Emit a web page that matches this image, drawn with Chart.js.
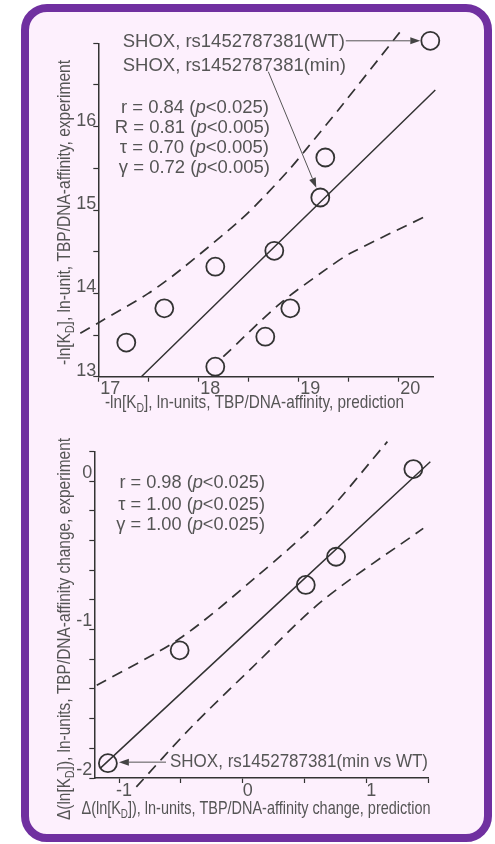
<!DOCTYPE html>
<html><head><meta charset="utf-8">
<script src="https://cdn.jsdelivr.net/npm/chart.js@4.4.0/dist/chart.umd.min.js"></script>
<style>
html,body{margin:0;padding:0;background:#fff;width:495px;height:844px;overflow:hidden;}
#frame{position:absolute;left:21px;top:4px;width:455px;height:822px;border:8px solid #7030a0;border-radius:26px;background:#fdf0fd;}
canvas{position:absolute;left:0;}
#c1{top:0}
#c2{top:420px}
</style></head><body>
<div id="frame"></div>
<canvas id="c1" width="495" height="420"></canvas>
<canvas id="c2" width="495" height="424"></canvas>
<script>
// ---------- data: top panel ----------
const topPredX = [17.28, 17.66, 18.17, 18.17, 18.67, 18.76, 18.92, 19.22, 19.27, 20.32];
const topExpY  = [13.41, 13.82, 14.32, 13.12, 13.48, 14.51, 13.82, 15.15, 15.63, 17.03];
const topFitX  = [17.43, 20.37];
const topFitY  = [13.00, 16.44];
const topUpperX = [16.82, 17.02, 17.50, 17.82, 18.42, 18.65, 18.92, 19.08, 19.42, 20.02];
const topUpperY = [13.52, 13.66, 14.00, 14.28, 14.88, 15.15, 15.50, 15.73, 16.23, 17.14];
const topLowerX = [18.25, 18.82, 19.28, 19.52, 20.30];
const topLowerY = [13.24, 13.88, 14.29, 14.48, 14.94];
const topXLabels = [17, 18, 19, 20];
const topYLabels = [13, 14, 15, 16];

// ---------- data: bottom panel ----------
const botPredX = [-1.09, -0.51, 0.51, 0.755, 1.38];
const botExpY  = [-1.90, -1.14, -0.70, -0.51, 0.08];
const botFitX  = [-1.155, 1.517];
const botFitY  = [-1.937, 0.130];
const botUpperX = [-1.18, -0.51, 0.11, 0.65, 1.17];
const botUpperY = [-1.376, -1.061, -0.645, -0.241, 0.265];
const botLowerX = [-0.86, -0.43, 0.11, 0.65, 1.46];
const botLowerY = [-2.06, -1.67, -1.229, -0.802, -0.319];
const botXLabels = [-1, 0, 1];
const botYLabels = [-2, -1, 0];

const FONT = "'Liberation Sans', Arial, sans-serif";
const TXT = '#555';
const INK = '#333';

const zip = (xs, ys) => xs.map((x, i) => ({x, y: ys[i]}));

function rich(ctx, segs, x, y, o) {
  const size = o.size || 18.5;
  ctx.save();
  ctx.fillStyle = o.color || TXT;
  ctx.textBaseline = 'middle';
  ctx.textAlign = 'left';
  const fontOf = s => (s.i ? 'italic ' : '') + (s.sub ? size * 0.68 : size) + 'px ' + FONT;
  let w = 0;
  const ws = segs.map(s => { ctx.font = fontOf(s); const m = ctx.measureText(s.t).width; w += m; return m; });
  const sx = o.width ? o.width / w : (o.sx || 1);
  ctx.translate(x, y);
  if (o.rot) ctx.rotate(o.rot);
  ctx.scale(sx, 1);
  let cx = o.align === 'right' ? -w : (o.align === 'center' ? -w / 2 : 0);
  segs.forEach((s, k) => { ctx.font = fontOf(s); ctx.fillText(s.t, cx, s.sub ? size * 0.3 : 0); cx += ws[k]; });
  ctx.restore();
  return w * sx;
}

function arrow(ctx, x1, y1, x2, y2) {
  const head = 10, hw = 3.5;
  const a = Math.atan2(y2 - y1, x2 - x1);
  const bx = x2 - head * Math.cos(a), by = y2 - head * Math.sin(a);
  ctx.save();
  ctx.strokeStyle = '#555'; ctx.fillStyle = '#444'; ctx.lineWidth = 1;
  ctx.beginPath(); ctx.moveTo(x1, y1); ctx.lineTo(bx, by); ctx.stroke();
  ctx.beginPath(); ctx.moveTo(x2, y2);
  ctx.lineTo(bx - hw * Math.sin(a), by + hw * Math.cos(a));
  ctx.lineTo(bx + hw * Math.sin(a), by - hw * Math.cos(a));
  ctx.closePath(); ctx.fill();
  ctx.restore();
}

function axis(min, max, step, labels, isX, fit, labelOffset, padding) {
  return {
    type: 'linear', min, max, position: isX ? 'bottom' : 'left',
    border: {display: true, color: INK, width: 1.5},
    grid: {drawOnChartArea: false, drawTicks: true, tickLength: 5, tickColor: INK, tickWidth: 1.2},
    ticks: {
      stepSize: step, includeBounds: false, autoSkip: false, maxRotation: 0, minRotation: 0,
      labelOffset, padding, color: TXT, font: {family: FONT, size: 18},
      callback: v => { const m = labels.find(l => Math.abs(l - v) < 1e-6); return m === undefined ? '' : String(m); }
    },
    afterFit: s => { if (isX) s.height = fit; else s.width = fit; }
  };
}

const circleDs = (data) => ({
  data, showLine: false, pointStyle: 'circle', pointRadius: 9, pointHoverRadius: 9,
  borderColor: INK, backgroundColor: 'rgba(0,0,0,0)', pointBorderWidth: 1.8, clip: false, order: 0
});
const lineDs = (data, dash) => ({
  data, showLine: true, pointRadius: 0, pointHoverRadius: 0, borderColor: INK,
  borderWidth: dash ? 1.7 : 1.5, borderDash: dash ? [11, 7] : [], tension: 0.3,
  fill: false, clip: false, order: 1
});

const stat = (a, b) => [{t: a + ' ('}, {t: 'p', i: 1}, {t: b + ')'}];

// ---------- top chart ----------
const topPlugin = {
  id: 'topAnn',
  afterDraw(chart) {
    const ctx = chart.ctx, xs = chart.scales.x, ys = chart.scales.y;
    const wtX = xs.getPixelForValue(topPredX[9]), wtY = ys.getPixelForValue(topExpY[9]);
    const w1 = rich(ctx, [{t: 'SHOX, rs1452787381(WT)'}], 122.7, 42, {size: 18.5});
    arrow(ctx, 122.7 + w1 + 1, wtY, wtX - 10, wtY);
    rich(ctx, [{t: 'SHOX, rs1452787381(min)'}], 122.7, 66, {size: 18.5});
    const mx = xs.getPixelForValue(topPredX[7]), my = ys.getPixelForValue(topExpY[7]);
    const sx0 = 268.3, sy0 = 71.7;
    const d = Math.hypot(mx - sx0, my - sy0);
    arrow(ctx, sx0, sy0, mx - (mx - sx0) / d * 10.5, my - (my - sy0) / d * 10.5);
    rich(ctx, stat('r = 0.84', '<0.025'), 269, 108.3, {align: 'right', size: 18.5});
    rich(ctx, stat('R = 0.81', '<0.005'), 270, 128.3, {align: 'right', size: 18.5});
    rich(ctx, stat('\u03C4 = 0.70', '<0.005'), 269, 148.3, {align: 'right', size: 18.5});
    rich(ctx, stat('\u03B3 = 0.72', '<0.005'), 270, 168.3, {align: 'right', size: 18.5});
    rich(ctx, [{t: '-ln[K'}, {t: 'D', sub: 1}, {t: '], ln-units, TBP/DNA-affinity, prediction'}], 254.5, 403, {align: 'center', width: 299, size: 18.5});
    rich(ctx, [{t: '-ln[K'}, {t: 'D', sub: 1}, {t: '], ln-unit, TBP/DNA-affinity, experiment'}], 64.5, 212.5, {align: 'center', width: 305, size: 18.5, rot: -Math.PI / 2});
  }
};

new Chart(document.getElementById('c1'), {
  type: 'scatter',
  data: {datasets: [
    circleDs(zip(topPredX, topExpY)),
    lineDs(zip(topFitX, topFitY), false),
    lineDs(zip(topUpperX, topUpperY), true),
    lineDs(zip(topLowerX, topLowerY), true)
  ]},
  options: {
    responsive: false, animation: false, devicePixelRatio: 1,
    layout: {padding: {left: 58.3, right: 61.7, top: 43.3, bottom: 13.3}},
    plugins: {legend: {display: false}, tooltip: {enabled: false}},
    scales: {
      x: axis(17, 20.35, 0.5, topXLabels, true, 30, 12, -3),
      y: axis(13, 17, 0.5, topYLabels, false, 40, -6, -3)
    }
  },
  plugins: [topPlugin]
});

// ---------- bottom chart ----------
const botPlugin = {
  id: 'botAnn',
  afterDraw(chart) {
    const ctx = chart.ctx, xs = chart.scales.x, ys = chart.scales.y;
    rich(ctx, stat('r = 0.98', '<0.025'), 265, 63.3, {align: 'right', size: 18.2});
    rich(ctx, stat('\u03C4 = 1.00', '<0.025'), 265, 85, {align: 'right', size: 18.2});
    rich(ctx, stat('\u03B3 = 1.00', '<0.025'), 265, 105, {align: 'right', size: 18.2});
    const px = xs.getPixelForValue(botPredX[0]), py = ys.getPixelForValue(botExpY[0]);
    rich(ctx, [{t: 'SHOX, rs1452787381(min vs WT)'}], 170, 341.7, {size: 18.5, width: 258});
    arrow(ctx, 166, py - 1, px + 11, py - 1);
    rich(ctx, [{t: '\u0394(ln[K'}, {t: 'D', sub: 1}, {t: ']), ln-units, TBP/DNA-affinity change, prediction'}], 256, 389, {align: 'center', width: 349, size: 18.5});
    rich(ctx, [{t: '\u0394(ln[K'}, {t: 'D', sub: 1}, {t: ']), ln-units, TBP/DNA-affinity change, experiment'}], 65, 209, {align: 'center', width: 382, size: 18.5, rot: -Math.PI / 2});
  }
};

new Chart(document.getElementById('c2'), {
  type: 'scatter',
  data: {datasets: [
    circleDs(zip(botPredX, botExpY)),
    lineDs(zip(botFitX, botFitY), false),
    lineDs(zip(botUpperX, botUpperY), true),
    lineDs(zip(botLowerX, botLowerY), true)
  ]},
  options: {
    responsive: false, animation: false, devicePixelRatio: 1,
    layout: {padding: {left: 54.3, right: 66.8, top: 31.3, bottom: 36}},
    plugins: {legend: {display: false}, tooltip: {enabled: false}},
    scales: {
      x: axis(-1.2, 1.5, 0.5, botXLabels, true, 30, 5, -3),
      y: axis(-2, 0.2, 0.2, botYLabels, false, 40, -8, -3)
    }
  },
  plugins: [botPlugin]
});
</script></body></html>
